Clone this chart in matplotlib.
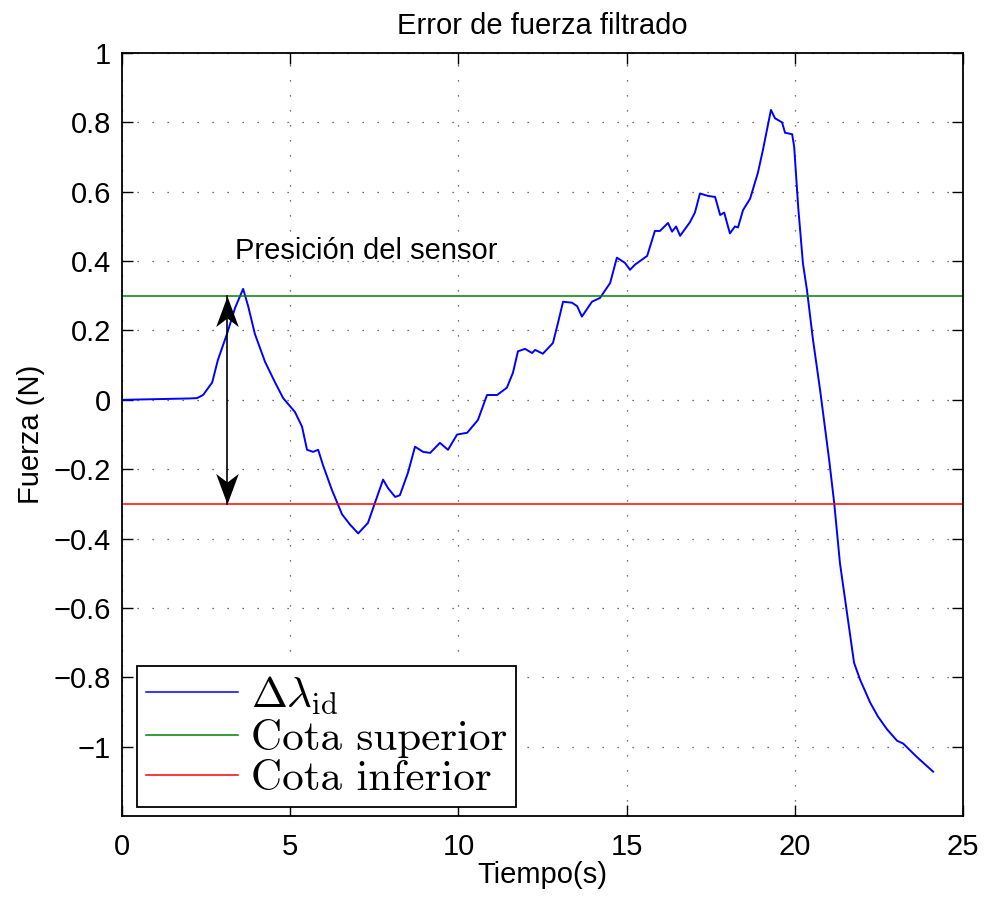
import matplotlib
matplotlib.use("Agg")
import matplotlib.pyplot as plt
from matplotlib.path import Path
import numpy as np

plt.rcParams['font.family'] = ['Liberation Sans', 'DejaVu Sans']
plt.rcParams['mathtext.fontset'] = 'cm'

# filtered force error (N) vs time (s)
t = [0, 1.0, 2.0, 2.23, 2.41, 2.68, 2.85, 3.12, 3.36, 3.60, 3.75, 3.95, 4.25, 4.55,
     4.79, 5.14, 5.35, 5.50, 5.68, 5.83, 5.98, 6.24, 6.54, 6.78, 7.02, 7.31, 7.58,
     7.76, 7.91, 8.12, 8.26, 8.50, 8.71, 8.95, 9.16, 9.45, 9.69, 9.96, 10.26, 10.58,
     10.85, 11.15, 11.44, 11.62, 11.77, 11.98, 12.19, 12.28, 12.51, 12.81, 12.96,
     13.11, 13.38, 13.53, 13.67, 13.97, 14.21, 14.51, 14.71, 14.95, 15.10, 15.25,
     15.61, 15.84, 15.99, 16.23, 16.35, 16.47, 16.59, 16.88, 17.03, 17.18, 17.42,
     17.63, 17.78, 17.90, 18.07, 18.22, 18.31, 18.46, 18.67, 18.90, 19.05, 19.29,
     19.41, 19.62, 19.71, 19.92, 19.98, 20.10, 20.24, 20.36, 20.54, 20.75, 21.02,
     21.17, 21.34, 21.55, 21.76, 21.94, 22.24, 22.47, 22.74, 23.04, 23.22, 23.63, 24.11]
err = [0.0, 0.002, 0.004, 0.005, 0.014, 0.05, 0.115, 0.19, 0.265, 0.32, 0.27, 0.19,
       0.11, 0.05, 0.005, -0.035, -0.077, -0.144, -0.15, -0.144, -0.19, -0.26, -0.33,
       -0.36, -0.385, -0.355, -0.28, -0.23, -0.255, -0.28, -0.275, -0.21, -0.135,
       -0.15, -0.153, -0.124, -0.144, -0.10, -0.095, -0.058, 0.014, 0.014, 0.035,
       0.078, 0.14, 0.147, 0.135, 0.144, 0.133, 0.164, 0.222, 0.283, 0.28, 0.27, 0.24,
       0.283, 0.294, 0.337, 0.41, 0.395, 0.375, 0.39, 0.415, 0.487, 0.487, 0.51,
       0.485, 0.50, 0.473, 0.512, 0.54, 0.595, 0.588, 0.585, 0.533, 0.54, 0.48, 0.50,
       0.497, 0.547, 0.58, 0.654, 0.72, 0.836, 0.812, 0.80, 0.77, 0.766, 0.73, 0.556,
       0.394, 0.317, 0.173, 0.029, -0.173, -0.297, -0.47, -0.614, -0.758, -0.807,
       -0.873, -0.913, -0.95, -0.983, -0.991, -1.03, -1.072]

cota_sup = 0.3
cota_inf = -0.3
t_flecha = 3.12

fig = plt.figure(figsize=(9.84, 8.99), dpi=100)
ax = fig.add_axes([0.124, 0.0923, 0.8547, 0.8487])

ax.plot(t, err, color=(0, 0, 1), lw=1.4, label=r'$\Delta\lambda_{\rm id}$')
ax.axhline(cota_sup, color=(0, 0.5, 0), lw=1.1, label='Cota superior')
ax.axhline(cota_inf, color=(1, 0, 0), lw=1.1, label='Cota inferior')

# double arrow with barbed heads (tip of each head sits on the marker position)
punta_arriba = Path([(0, 0), (-0.37, -1), (0, -0.72), (0.37, -1), (0, 0)],
                    [Path.MOVETO, Path.LINETO, Path.LINETO, Path.LINETO, Path.CLOSEPOLY])
punta_abajo = Path([(0, 0), (-0.37, 1), (0, 0.72), (0.37, 1), (0, 0)],
                   [Path.MOVETO, Path.LINETO, Path.LINETO, Path.LINETO, Path.CLOSEPOLY])
ax.plot([t_flecha, t_flecha], [cota_inf, cota_sup], color='k', lw=1.2)
ax.plot([t_flecha], [cota_sup], marker=punta_arriba, ms=44, color='k', mew=0)
ax.plot([t_flecha], [cota_inf], marker=punta_abajo, ms=44, color='k', mew=0)
ax.text(3.36, 0.43, 'Presición del sensor', fontsize=21, va='center', ha='left')

ax.set_xlim(0, 25)
ax.set_ylim(-1.2, 1)
ax.set_xticks(np.arange(0, 26, 5))
ax.set_yticks(np.arange(-1, 1.01, 0.2))
ax.set_yticklabels(['\u22121', '\u22120.8', '\u22120.6', '\u22120.4', '\u22120.2', '0',
                    '0.2', '0.4', '0.6', '0.8', '1'])
ax.tick_params(direction='in', length=8, width=1, labelsize=21, top=True, right=True)
ax.tick_params(axis='x', pad=12)
ax.tick_params(axis='y', pad=8)
for s in ax.spines.values():
    s.set_linewidth(1.3)
ax.grid(True, color='0.25', linestyle=(0, (1, 11)), linewidth=0.9)

ax.set_title('Error de fuerza filtrado', fontsize=21, pad=14)
ax.set_xlabel('Tiempo(s)', fontsize=21, labelpad=0)
ax.set_ylabel('Fuerza (N)', fontsize=21, labelpad=6)

leg = ax.legend(handles=ax.lines[:3], loc='lower left', bbox_to_anchor=(0.018, 0.012),
                borderaxespad=0, prop={'family': 'cmr10', 'size': 31}, fancybox=False,
                edgecolor='k', framealpha=1, handlelength=2.15, handletextpad=0.3,
                labelspacing=0.05, borderpad=0.2)
leg.get_frame().set_linewidth(1.3)
for h in leg.get_lines():
    h.set_linewidth(1.1)

fig.savefig('out.png', dpi=100)
